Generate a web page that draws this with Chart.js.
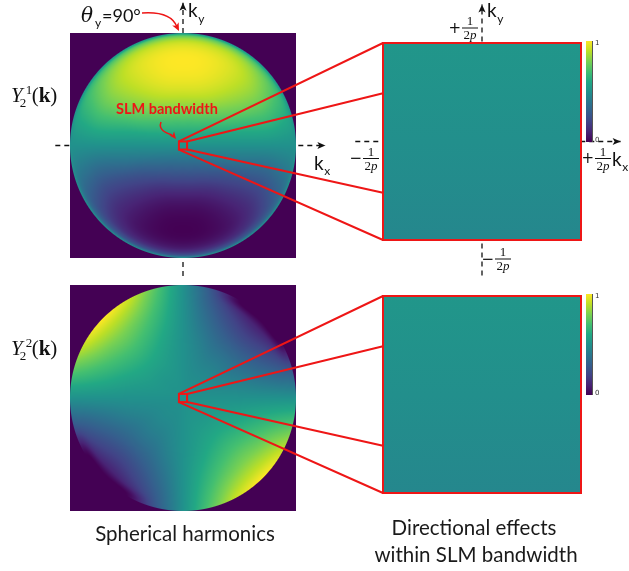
<!DOCTYPE html>
<html>
<head>
<meta charset="utf-8">
<script src="https://cdn.jsdelivr.net/npm/chart.js@4.4.0/dist/chart.umd.min.js"></script>
<style>
  html, body { margin: 0; padding: 0; background: #fff; }
  #fig { display: block; }
</style>
</head>
<body>
<canvas id="fig" width="629" height="571"></canvas>
<script>
// Polar sampling of the two maps: ring radius |k| and angle (degrees from +kx)
const rings = [0, 0.25, 0.5, 0.75, 0.9, 0.97, 1];
const angles = [0, 15, 30, 45, 60, 75, 90, 105, 120, 135, 150, 165,
                180, 195, 210, 225, 240, 255, 270, 285, 300, 315, 330, 345];

// Y_2^1(k), normalised 0..1, one row per ring
const y21Values = [
    [.50, .50, .50, .50, .50, .50, .50, .50, .50, .50, .50, .50, .50, .50, .50, .50, .50, .50, .50, .50, .50, .50, .50, .50],
    [.50, .56, .62, .67, .71, .73, .74, .73, .71, .67, .62, .56, .50, .44, .38, .33, .29, .27, .26, .27, .29, .33, .38, .44],
    [.50, .61, .73, .82, .89, .93, .94, .93, .89, .82, .73, .61, .50, .39, .27, .18, .11, .07, .06, .07, .11, .18, .27, .39],
    [.50, .65, .78, .88, .95, .99, 1.0, .99, .95, .88, .78, .65, .50, .35, .22, .12, .05, .01, .00, .01, .05, .12, .22, .35],
    [.50, .62, .73, .83, .90, .93, .94, .93, .90, .83, .73, .62, .50, .38, .27, .17, .10, .07, .06, .07, .10, .17, .27, .38],
    [.50, .58, .65, .70, .74, .76, .77, .76, .74, .70, .65, .58, .50, .42, .35, .30, .26, .24, .23, .24, .26, .30, .35, .42],
    [.50, .50, .50, .50, .50, .50, .50, .50, .50, .50, .50, .50, .50, .50, .50, .50, .50, .50, .50, .50, .50, .50, .50, .50]
];

// Y_2^2(k), normalised 0..1, one row per ring
const y22Values = [
    [.50, .50, .50, .50, .50, .50, .50, .50, .50, .50, .50, .50, .50, .50, .50, .50, .50, .50, .50, .50, .50, .50, .50, .50],
    [.50, .48, .47, .47, .47, .48, .50, .52, .53, .53, .53, .52, .50, .48, .47, .47, .47, .48, .50, .52, .53, .53, .53, .52],
    [.50, .44, .39, .38, .39, .44, .50, .56, .61, .63, .61, .56, .50, .44, .39, .38, .39, .44, .50, .56, .61, .63, .61, .56],
    [.50, .36, .26, .22, .26, .36, .50, .64, .74, .78, .74, .64, .50, .36, .26, .22, .26, .36, .50, .64, .74, .78, .74, .64],
    [.50, .30, .15, .10, .15, .30, .50, .70, .85, .90, .85, .70, .50, .30, .15, .10, .15, .30, .50, .70, .85, .90, .85, .70],
    [.50, .27, .02, .00, .02, .27, .50, .73, .91, .97, .91, .73, .50, .27, .02, .00, .02, .27, .50, .73, .91, .97, .91, .73],
    [.50, .25, .00, .00, .00, .25, .50, .75, .93, 1.0, .93, .75, .50, .25, .00, .00, .00, .25, .50, .75, .93, 1.0, .93, .75]
];

// Zoomed patch inside the SLM bandwidth, rows from +1/2p down to -1/2p
const zoomRows1 = [0.52, 0.49, 0.46];
const zoomRows2 = [0.52, 0.49, 0.46];
const colorbarTicks = [0, 1];

const W = 629, H = 571;
const RED = '#ee1616';

// Viridis colour map
const viridisStops = ['#440154', '#482475', '#414487', '#355f8d', '#2a788e', '#21918c',
                      '#22a884', '#44bf70', '#7ad151', '#bddf26', '#fde725']
    .map(h => [parseInt(h.slice(1, 3), 16), parseInt(h.slice(3, 5), 16), parseInt(h.slice(5, 7), 16)]);

function viridis(v) {
    v = Math.max(0, Math.min(1, v)) * (viridisStops.length - 1);
    const i = Math.min(Math.floor(v), viridisStops.length - 2);
    const t = v - i;
    const a = viridisStops[i], b = viridisStops[i + 1];
    return [a[0] + (b[0] - a[0]) * t, a[1] + (b[1] - a[1]) * t, a[2] + (b[2] - a[2]) * t];
}
function viridisCss(v) {
    const c = viridis(v);
    return `rgb(${Math.round(c[0])},${Math.round(c[1])},${Math.round(c[2])})`;
}

// Hidden full-canvas axes, fitted so that [lo, hi] lands on a panel
function fitX(lo, hi, pLo, pHi) {
    const unit = (pHi - pLo) / (hi - lo);
    const min = lo - pLo / unit;
    return { type: 'linear', axis: 'x', display: false, min: min, max: min + W / unit };
}
function fitY(lo, hi, pLo, pHi) {
    const unit = (pLo - pHi) / (hi - lo);
    const max = hi + pHi / unit;
    return { type: 'linear', axis: 'y', display: false, min: max - H / unit, max: max };
}

// Smooth reading of the polar tables (periodic cubic in angle, Hermite in radius)
function catmull(p0, p1, p2, p3, t) {
    return 0.5 * (2 * p1 + (p2 - p0) * t + (2 * p0 - 5 * p1 + 4 * p2 - p3) * t * t +
                  (3 * p1 - p0 - 3 * p2 + p3) * t * t * t);
}
function sample(table, r, phi) {
    const n = angles.length;
    const a = phi / (angles[1] - angles[0]);
    const j = Math.floor(a), ta = a - j;
    const ring = table.map(row => catmull(row[(j - 1 + n) % n], row[j % n],
                                          row[(j + 1) % n], row[(j + 2) % n], ta));
    let i = 0;
    while (i < rings.length - 2 && r > rings[i + 1]) i++;
    const slope = k => {
        const lo = Math.max(0, k - 1), hi = Math.min(rings.length - 1, k + 1);
        return (ring[hi] - ring[lo]) / (rings[hi] - rings[lo]);
    };
    const h = rings[i + 1] - rings[i];
    const t = Math.max(0, Math.min(1, (r - rings[i]) / h));
    const t2 = t * t, t3 = t2 * t;
    return (2 * t3 - 3 * t2 + 1) * ring[i] + (t3 - 2 * t2 + t) * h * slope(i) +
           (-2 * t3 + 3 * t2) * ring[i + 1] + (t3 - t2) * h * slope(i + 1);
}

function drawMap(chart, table, yId) {
    const ctx = chart.ctx;
    const xs = chart.scales.mx, ys = chart.scales[yId];
    const x0 = Math.round(xs.getPixelForValue(-1)), x1 = Math.round(xs.getPixelForValue(1));
    const y0 = Math.round(ys.getPixelForValue(1)), y1 = Math.round(ys.getPixelForValue(-1));
    const w = x1 - x0, h = y1 - y0;
    const rPx = w / 2;
    const bg = viridis(0);
    const img = ctx.createImageData(w, h);
    for (let py = 0; py < h; py++) {
        const ky = ys.getValueForPixel(y0 + py + 0.5);
        for (let px = 0; px < w; px++) {
            const kx = xs.getValueForPixel(x0 + px + 0.5);
            const r = Math.hypot(kx, ky);
            let phi = Math.atan2(ky, kx) * 180 / Math.PI;
            if (phi < 0) phi += 360;
            const c = viridis(sample(table, Math.min(r, 1), phi));
            const cov = Math.max(0, Math.min(1, (1 - r) * rPx + 0.5));
            const k = (py * w + px) * 4;
            for (let n = 0; n < 3; n++) img.data[k + n] = bg[n] + (c[n] - bg[n]) * cov;
            img.data[k + 3] = 255;
        }
    }
    ctx.putImageData(img, x0, y0);
}

function arrowHead(ctx, x, y, ang, size, color) {
    ctx.save();
    ctx.translate(x, y);
    ctx.rotate(ang);
    ctx.fillStyle = color;
    ctx.beginPath();
    ctx.moveTo(0, 0);
    ctx.lineTo(-size, -size * 0.45);
    ctx.lineTo(-size * 0.75, 0);
    ctx.lineTo(-size, size * 0.45);
    ctx.closePath();
    ctx.fill();
    ctx.restore();
}

function dashedAxis(ctx, xa, ya, xb, yb, arrow) {
    ctx.save();
    ctx.strokeStyle = '#111';
    ctx.lineWidth = 1.3;
    ctx.setLineDash([5, 4]);
    ctx.beginPath();
    ctx.moveTo(xa, ya);
    ctx.lineTo(xb, yb);
    ctx.stroke();
    ctx.restore();
    if (arrow) arrowHead(ctx, xb, yb, Math.atan2(yb - ya, xb - xa), 8, '#111');
}

function drawFrac(ctx, sign, bx, by) {
    ctx.save();
    ctx.fillStyle = '#111';
    ctx.textBaseline = 'alphabetic';
    ctx.textAlign = 'center';
    ctx.font = '13px "Liberation Serif"';
    ctx.fillText('1', bx, by - 3);
    const w2 = ctx.measureText('2').width;
    ctx.font = 'italic 13px "Liberation Serif"';
    const wp = ctx.measureText('p').width;
    const left = bx - (w2 + wp) / 2;
    ctx.textAlign = 'left';
    ctx.font = '13px "Liberation Serif"';
    ctx.fillText('2', left, by + 11);
    ctx.font = 'italic 13px "Liberation Serif"';
    ctx.fillText('p', left + w2, by + 11);
    ctx.fillRect(bx - 8, by - 0.5, 16, 1);
    ctx.font = '15px "DejaVu Sans"';
    ctx.textAlign = 'right';
    ctx.textBaseline = 'middle';
    ctx.fillText(sign, bx - 9, by + 1);
    ctx.restore();
}

function subLabel(ctx, main, sub, x, y, size) {
    ctx.save();
    ctx.fillStyle = '#111';
    ctx.textAlign = 'left';
    ctx.textBaseline = 'alphabetic';
    ctx.font = size + 'px Lato';
    ctx.fillText(main, x, y);
    const w = ctx.measureText(main).width;
    ctx.font = Math.round(size * 0.65) + 'px Lato';
    ctx.fillText(sub, x + w + 0.5, y + size * 0.3);
    ctx.restore();
}

function harmonicLabel(ctx, m, x, y) {
    ctx.save();
    ctx.fillStyle = '#111';
    ctx.textBaseline = 'alphabetic';
    ctx.textAlign = 'left';
    ctx.font = 'italic 21px "Liberation Serif"';
    ctx.fillText('Y', x, y);
    let cx = x + ctx.measureText('Y').width - 3;
    ctx.font = '13px "Liberation Serif"';
    ctx.fillText('2', cx, y + 5);
    ctx.fillText(m, cx + 6, y - 8);
    cx += 12;
    ctx.font = '21px "Liberation Serif"';
    ctx.fillText('(', cx, y);
    cx += ctx.measureText('(').width;
    ctx.font = 'bold 21px "Liberation Serif"';
    ctx.fillText('k', cx, y);
    cx += ctx.measureText('k').width;
    ctx.font = '21px "Liberation Serif"';
    ctx.fillText(')', cx, y);
    ctx.restore();
}

function drawZoom(chart, rows, yId, cbId) {
    const ctx = chart.ctx;
    const xs = chart.scales.zx, ys = chart.scales[yId], cb = chart.scales[cbId];
    const left = xs.getPixelForValue(-1), right = xs.getPixelForValue(1);
    const top = ys.getPixelForValue(1), bottom = ys.getPixelForValue(-1);
    const grad = ctx.createLinearGradient(0, top, 0, bottom);
    rows.forEach((v, i) => grad.addColorStop(i / (rows.length - 1), viridisCss(v)));
    ctx.fillStyle = grad;
    ctx.fillRect(left, top, right - left, bottom - top);
    ctx.strokeStyle = RED;
    ctx.lineWidth = 2;
    ctx.strokeRect(left, top, right - left, bottom - top);

    // colour bar
    const bx = right + 5, bw = 6;
    const c0 = cb.getPixelForValue(0), c1 = cb.getPixelForValue(1);
    const cg = ctx.createLinearGradient(0, c0, 0, c1);
    viridisStops.forEach((s, i) => cg.addColorStop(i / (viridisStops.length - 1), `rgb(${s.join(',')})`));
    ctx.fillStyle = cg;
    ctx.fillRect(bx, c1, bw, c0 - c1);
    ctx.strokeStyle = '#555';
    ctx.lineWidth = 1;
    ctx.beginPath();
    ctx.moveTo(bx + bw + 0.5, c1);
    ctx.lineTo(bx + bw + 0.5, c0);
    ctx.stroke();
    ctx.fillStyle = '#333';
    ctx.font = '7px "DejaVu Sans"';
    ctx.textAlign = 'left';
    ctx.textBaseline = 'middle';
    colorbarTicks.forEach(t => {
        ctx.fillText(String(t), bx + bw + 3, cb.getPixelForValue(t) + (t === 0 ? -2 : 2));
    });
}

function connectors(chart, yId, zyId) {
    const ctx = chart.ctx;
    const mx = chart.scales.mx, my = chart.scales[yId];
    const zx = chart.scales.zx, zy = chart.scales[zyId];
    const s = 0.036;
    const l = mx.getPixelForValue(-s), r = mx.getPixelForValue(s);
    const t = my.getPixelForValue(s), b = my.getPixelForValue(-s);
    const ex = zx.getPixelForValue(-1);
    ctx.save();
    ctx.strokeStyle = RED;
    ctx.lineWidth = 2;
    ctx.strokeRect(l, t, r - l, b - t);
    const ends = [[l, t, 1], [r, t, 0.49], [r, b, -0.52], [l, b, -1]];
    ctx.beginPath();
    ends.forEach(e => {
        ctx.moveTo(e[0], e[1]);
        ctx.lineTo(ex, zy.getPixelForValue(e[2]));
    });
    ctx.stroke();
    ctx.restore();
}

const figurePlugin = {
    id: 'figure',
    afterDraw(chart) {
        const ctx = chart.ctx;
        const s = chart.scales;

        // dashed k axes behind the panels
        dashedAxis(ctx, s.mx.getPixelForValue(-1.13), s.my1.getPixelForValue(0),
                   s.mx.getPixelForValue(1.26), s.my1.getPixelForValue(0), true);
        dashedAxis(ctx, s.mx.getPixelForValue(0), s.my1.getPixelForValue(-1.16),
                   s.mx.getPixelForValue(0), s.my1.getPixelForValue(1.27), true);
        dashedAxis(ctx, s.zx.getPixelForValue(-1.28), s.zy1.getPixelForValue(0),
                   s.zx.getPixelForValue(1.4), s.zy1.getPixelForValue(0), true);
        dashedAxis(ctx, s.zx.getPixelForValue(0), s.zy1.getPixelForValue(-1.36),
                   s.zx.getPixelForValue(0), s.zy1.getPixelForValue(1.39), true);

        drawMap(chart, y21Values, 'my1');
        drawMap(chart, y22Values, 'my2');
        drawZoom(chart, zoomRows1, 'zy1', 'cb1');
        drawZoom(chart, zoomRows2, 'zy2', 'cb2');
        connectors(chart, 'my1', 'zy1');
        connectors(chart, 'my2', 'zy2');

        // axis labels
        const ax = s.mx.getPixelForValue(0), ay = s.my1.getPixelForValue(0);
        const zxp = s.zx.getPixelForValue(0), zyp = s.zy1.getPixelForValue(0);
        subLabel(ctx, 'k', 'y', ax + 5, 17, 19);
        subLabel(ctx, 'k', 'x', s.mx.getPixelForValue(1) + 18, ay + 24, 19);
        subLabel(ctx, 'k', 'y', zxp + 5, 17, 19);
        subLabel(ctx, 'k', 'x', s.zx.getPixelForValue(1) + 31, zyp + 24, 19);

        drawFrac(ctx, '+', zxp - 12, s.zy1.getPixelForValue(1) - 15);
        drawFrac(ctx, '\u2212', s.zx.getPixelForValue(-1) - 12, zyp + 17);
        drawFrac(ctx, '+', s.zx.getPixelForValue(1) + 22, zyp + 17);
        drawFrac(ctx, '\u2212', zxp + 21, s.zy1.getPixelForValue(-1) + 19);

        harmonicLabel(ctx, '1', 11, 102);
        harmonicLabel(ctx, '2', 11, 355);

        // theta_y = 90 deg annotation
        ctx.save();
        ctx.fillStyle = '#111';
        ctx.textBaseline = 'alphabetic';
        ctx.textAlign = 'left';
        ctx.font = 'italic 20px "DejaVu Serif"';
        ctx.fillText('\u03b8', 81, 22);
        ctx.font = '12px Lato';
        ctx.fillText('y', 95, 27);
        ctx.font = '18px Lato';
        ctx.fillText('=90\u00b0', 102, 22);
        ctx.strokeStyle = RED;
        ctx.lineWidth = 1.5;
        ctx.beginPath();
        ctx.moveTo(142, 13);
        ctx.quadraticCurveTo(171, 11, 177, 27);
        ctx.stroke();
        arrowHead(ctx, 179, 31, Math.atan2(4, 2), 8, RED);

        // SLM bandwidth annotation
        ctx.fillStyle = RED;
        ctx.font = 'bold 14.5px Lato';
        ctx.fillText('SLM bandwidth', 116, 114);
        ctx.beginPath();
        ctx.moveTo(161, 122);
        ctx.bezierCurveTo(158, 130, 166, 133, 172, 135);
        ctx.stroke();
        arrowHead(ctx, 176, 139, Math.atan2(1, 0.8), 7, RED);

        // captions
        ctx.fillStyle = '#1a1a1a';
        ctx.font = '20.5px Lato';
        ctx.textAlign = 'center';
        ctx.fillText('Spherical harmonics', s.mx.getPixelForValue(0) + 2, 541);
        ctx.fillText('Directional effects', zxp - 8, 535);
        ctx.fillText('within SLM bandwidth', zxp - 6, 562);
        ctx.restore();
    }
};

new Chart(document.getElementById('fig'), {
    type: 'scatter',
    data: { datasets: [] },
    options: {
        responsive: false,
        animation: false,
        layout: { padding: 0 },
        plugins: {
            legend: { display: false },
            tooltip: { enabled: false }
        },
        scales: {
            x: { display: false },
            y: { display: false },
            mx: fitX(-1, 1, 70, 296),
            my1: fitY(-1, 1, 258, 33),
            my2: fitY(-1, 1, 511, 285),
            zx: fitX(-1, 1, 383, 581),
            zy1: fitY(-1, 1, 240, 43),
            zy2: fitY(-1, 1, 493, 296),
            cb1: fitY(0, 1, 142, 41),
            cb2: fitY(0, 1, 395, 294)
        }
    },
    plugins: [figurePlugin]
});
</script>
</body>
</html>
